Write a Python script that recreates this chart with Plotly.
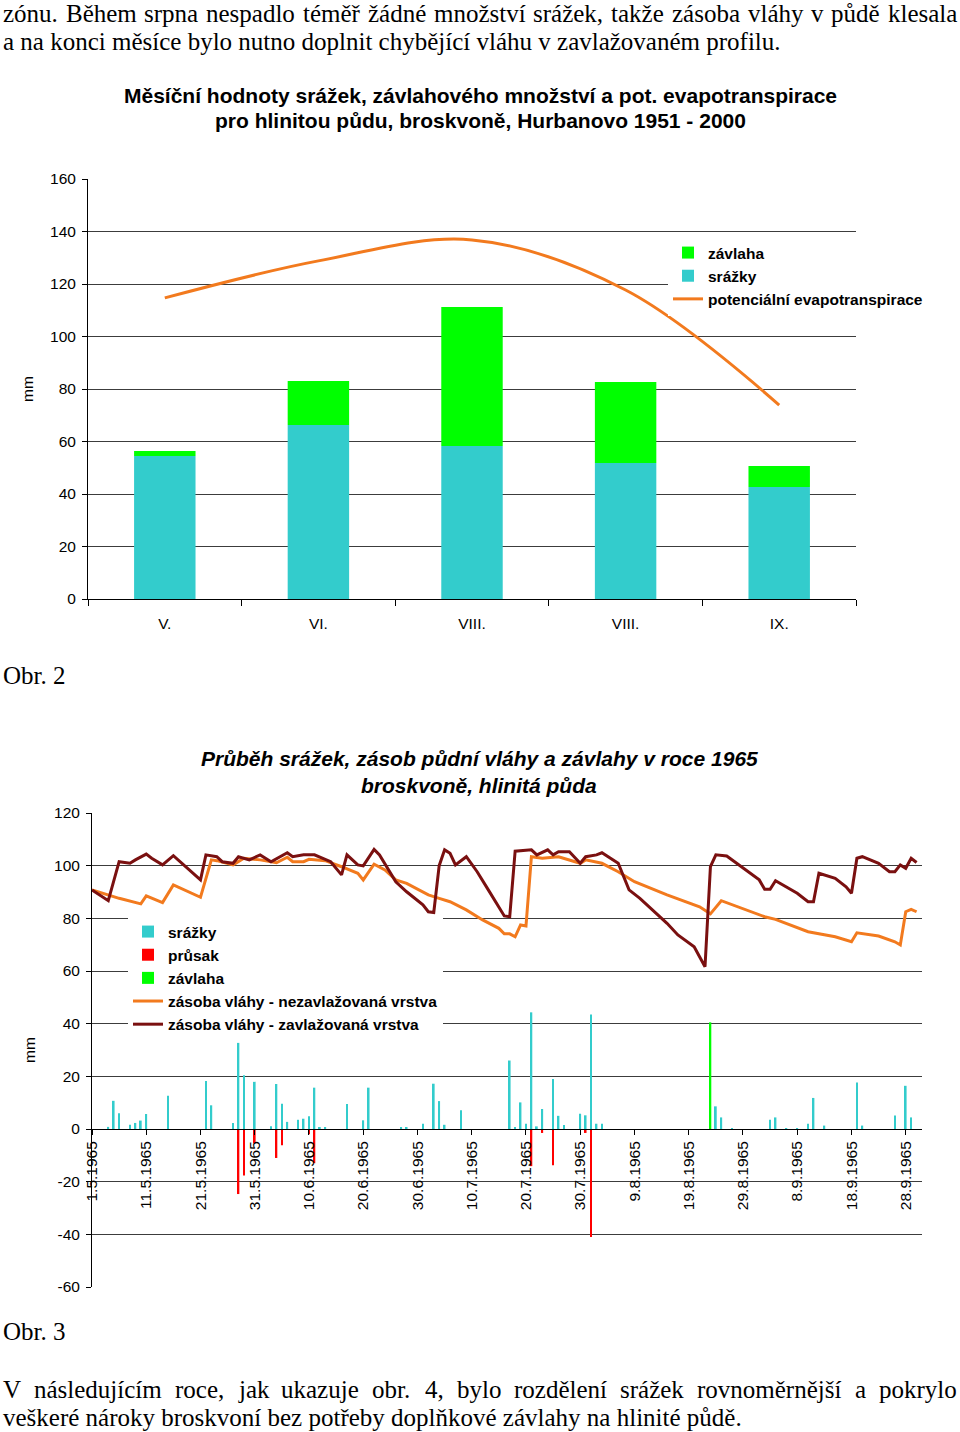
import unicodedata
import plotly.graph_objects as go
import pandas as pd

# ---------------- Chart 1 data (Hurbanovo 1951-2000) ----------------
mesice = ["V.", "VI.", "VIII.", "VIII.", "IX."]
srazky_mes = [54.5, 66.3, 58.3, 51.8, 42.7]
zavlaha_mes = [1.9, 16.7, 52.9, 30.9, 8.0]
evapotranspirace = [114.7, 128.8, 136.8, 117.7, 73.9]

# ---------------- Chart 2 data (1965), day offsets from 1.5.1965 ----------------
zacatek = "1965-05-01"
zav_dny = [0, 2, 3, 5, 7, 8, 10, 11, 13, 15, 18, 20, 21, 23, 24, 26, 27, 29, 31, 33,
           36, 37, 39, 41, 44, 46, 47, 49, 50, 52, 53, 55, 56, 58, 61, 62, 63, 64, 65, 66,
           67, 69, 71, 73, 75, 76, 77, 78, 81, 82, 84, 85, 86, 88, 90, 91, 93, 94, 97, 98,
           99, 101, 106, 108, 111, 112, 113, 114, 115, 117, 120, 123, 124, 125, 126, 128, 130, 132, 133, 134,
           135, 137, 139, 140, 141, 142, 145, 147, 148, 149, 150, 151, 152]
zav_hodnoty = [90.8, 88, 86.7, 101.5, 100.9, 102.2, 104.4, 102.8, 100.3, 103.8,
               98.4, 94.6, 104.1, 103.4, 101.5, 100.9, 103.4, 102.2, 104.1, 101.5,
               104.9, 103.4, 104.1, 104.1, 101.5, 96.5, 104.1, 100.3, 99.9, 106.2,
               104.1, 97.1, 93.9, 90.1, 85.1, 82.5, 82.2, 100, 106, 104.7,
               100.3, 103.4, 97.7, 91, 84.4, 80.9, 80.6, 105.5, 106, 104.1,
               106, 104.1, 105.3, 105.3, 100.9, 103.4, 104.1, 104.9, 100.9, 95.8,
               90.8, 87.6, 78.1, 73.7, 69.2, 65.4, 61.6, 99.6, 104.1, 103.7,
               99, 94.6, 91, 91, 94.3, 92, 89.5, 86.3, 86.3, 97.1,
               96.5, 95.2, 92, 89.5, 102.8, 103.4, 100.9, 97.7, 97.7, 100.3,
               99, 102.8, 101.2]

nez_dny = [0, 3, 5, 9, 10, 13, 15, 20, 22, 23, 26, 28, 31, 34, 36, 37, 39, 40, 43, 46,
           49, 50, 52, 54, 56, 58, 62, 64, 66, 69, 72, 75, 76, 77, 78, 79, 80, 81, 83, 86,
           87, 90, 91, 94, 97, 100, 106, 112, 114, 116, 124, 126, 132, 137, 140, 141, 145, 148, 149, 150,
           151, 152]
nez_hodnoty = [90.8, 88.9, 87.6, 85.5, 88.5, 86, 92.7, 88, 102.2, 101.9,
               100.3, 102.8, 102.2, 101.1, 103.2, 101.5, 101.5, 102.4, 101.9, 99.6,
               97.1, 94.6, 100.6, 98.4, 94.6, 93.3, 88.9, 87.6, 86.3, 83.2,
               79.4, 76.2, 74.1, 74.1, 73, 77.5, 77.1, 103.4, 102.8, 103.4,
               102.8, 100.9, 102.2, 100.9, 97.7, 93.9, 88.9, 84.4, 81.7, 86.7,
               80.6, 79.6, 74.9, 73, 71.1, 74.5, 73.3, 71.1, 69.9, 82.5,
               83.4, 82.5]

sr_dny = [3, 4, 5, 7, 8, 9, 10, 14, 21, 22, 26, 27, 28, 30, 33, 34, 35, 36, 38, 39,
          40, 41, 42, 43, 47, 50, 51, 57, 58, 61, 63, 64, 65, 68, 77, 78, 79, 80, 81, 82,
          83, 85, 86, 87, 90, 91, 92, 93, 94, 115, 116, 118, 125, 126, 128, 130, 132, 133, 135, 141,
          142, 148, 150, 151]
sr_hodnoty = [0.8, 10.7, 6, 1.6, 2.3, 3.2, 5.7, 12.6, 18.2, 9,
              2.3, 32.7, 20.4, 17.9, 1, 17.1, 9.6, 2.7, 3.5, 3.9,
              4.8, 15.7, 0.5, 0.5, 9.5, 3.3, 15.7, 0.4, 0.4, 2,
              17.2, 10.6, 1.6, 7.1, 26, 0.5, 10.1, 2, 44.3, 1,
              7.6, 19, 5, 1.5, 5.8, 5.2, 43.5, 2, 2, 8.6,
              4.4, 0.3, 3.5, 4.4, 0.3, 0.3, 2, 11.8, 1.3, 17.7,
              1.3, 5.1, 16.4, 4.4]

prusak_dny = [27, 28, 30, 34, 35, 40, 41, 81, 83, 85, 91, 92]
prusak_hodnoty = [-24.7, -17.7, -5.4, -11, -6.2, -2, -13, -14.1, -1.5, -13.8, -1.5, -41]

zavlaha_dny = [114]
zavlaha_hodnoty = [40.5]

y2_ticks = [120, 100, 80, 60, 40, 20, 0, -20, -40, -60]
y2_labels = ["120", "100", "80", "60", "40", "20", "0", "-20", "-40", "-60"]


def datumy(dny):
    return [pd.Timestamp(zacatek) + pd.Timedelta(days=d) for d in dny]


W, H = 960, 1432
def fx(p):
    return p / W
def fy(p):
    return 1 - p / H

SANS = "Liberation Sans, Arial, sans-serif"
SERIF = "Liberation Serif, Times New Roman, serif"
ORANGE = "#F27A1E"
DARKRED = "#7A1010"
CYAN = "#33CCCC"
GREEN = "#00FF00"
GRID = "#3c3c3c"

fig = go.Figure()

# ---- Chart 1 ----
xpos = list(range(len(mesice)))
fig.add_trace(go.Bar(x=xpos, y=srazky_mes, name="srážky", marker=dict(color=CYAN, line_width=0),
                     width=0.4, xaxis="x", yaxis="y", legend="legend", legendrank=2))
fig.add_trace(go.Bar(x=xpos, y=zavlaha_mes, name="závlaha", marker=dict(color=GREEN, line_width=0),
                     width=0.4, xaxis="x", yaxis="y", legend="legend", legendrank=1))
fig.add_trace(go.Scatter(x=xpos, y=evapotranspirace, name="potenciální evapotranspirace", mode="lines",
                         line=dict(color=ORANGE, width=3, shape="spline", smoothing=1),
                         xaxis="x", yaxis="y", legend="legend", legendrank=3))

# ---- Chart 2 ----
bw = 0.32 * 86400000
fig.add_trace(go.Bar(x=datumy(sr_dny), y=sr_hodnoty, name="srážky", width=bw,
                     marker=dict(color=CYAN, line_width=0), xaxis="x2", yaxis="y2",
                     legend="legend2", legendrank=1))
fig.add_trace(go.Bar(x=datumy(prusak_dny), y=prusak_hodnoty, name="průsak", width=bw,
                     marker=dict(color="#FF0000", line_width=0), xaxis="x2", yaxis="y2",
                     legend="legend2", legendrank=2))
fig.add_trace(go.Bar(x=datumy(zavlaha_dny), y=zavlaha_hodnoty, name="závlaha", width=bw,
                     marker=dict(color=GREEN, line_width=0), xaxis="x2", yaxis="y2",
                     legend="legend2", legendrank=3))
fig.add_trace(go.Scatter(x=datumy(nez_dny), y=nez_hodnoty, name="zásoba vláhy - nezavlažovaná vrstva",
                         mode="lines", line=dict(color=ORANGE, width=3),
                         xaxis="x2", yaxis="y2", legend="legend2", legendrank=4))
fig.add_trace(go.Scatter(x=datumy(zav_dny), y=zav_hodnoty, name="zásoba vláhy - zavlažovaná vrstva",
                         mode="lines", line=dict(color=DARKRED, width=3),
                         xaxis="x2", yaxis="y2", legend="legend2", legendrank=5))

tickfont = dict(family=SANS, size=15.5, color="black")
legfont = dict(family=SANS, size=15.5, color="black", weight="bold")

c2_bottom, c2_top = fy(1287), fy(813)
zero_pos = c2_bottom + (0 - (-60)) / 180 * (c2_top - c2_bottom)

fig.update_layout(
    width=W, height=H,
    margin=dict(l=0, r=0, t=0, b=0, pad=0, autoexpand=False),
    paper_bgcolor="white", plot_bgcolor="white",
    barmode="relative",
    showlegend=True,
    xaxis=dict(domain=[fx(88), fx(856)], anchor="y", range=[-0.5, 4.5], automargin=False,
               tickmode="array", tickvals=xpos, ticktext=mesice, ticks="",
               showline=True, linecolor="black", linewidth=1, showgrid=False, zeroline=False,
               tickfont=tickfont, ticklabelstandoff=10,
               minor=dict(tick0=-0.5, dtick=1, ticks="outside", ticklen=6,
                          tickcolor="black", showgrid=False)),
    yaxis=dict(domain=[fy(599), fy(179)], anchor="x", range=[0, 160], tick0=0, dtick=20,
               automargin=False, ticklabelstandoff=3,
               showgrid=True, gridcolor=GRID, gridwidth=1, showline=True, linecolor="black",
               ticks="outside", ticklen=5, tickcolor="black", zeroline=False, tickfont=tickfont,
               title=dict(text="mm", font=dict(family=SANS, size=15.5, color="black"), standoff=12)),
    xaxis2=dict(type="date", domain=[fx(92), fx(922)], anchor="free", position=zero_pos,
                automargin=False,
                range=["1965-05-01", "1965-10-01"], tick0="1965-05-01", dtick=864000000,
                tickformat="%-d.%-m.%Y", tickangle=-90, ticks="outside", ticklen=5,
                tickcolor="black", showline=True, linecolor="black", linewidth=1,
                showgrid=False, zeroline=False, tickfont=tickfont),
    yaxis2=dict(domain=[c2_bottom, c2_top], anchor="x2", range=[-60, 120], automargin=False,
                tickmode="array", tickvals=y2_ticks, ticktext=y2_labels, ticklabelstandoff=3,
                showgrid=True, gridcolor=GRID, gridwidth=1, showline=True, linecolor="black",
                ticks="outside", ticklen=5, tickcolor="black", zeroline=False, tickfont=tickfont,
                title=dict(text="mm", font=dict(family=SANS, size=15.5, color="black"), standoff=14)),
    legend=dict(x=fx(668), y=fy(236), xanchor="left", yanchor="top", bgcolor="white",
                font=legfont, traceorder="normal", borderwidth=0),
    legend2=dict(x=fx(128), y=fy(915), xanchor="left", yanchor="top", bgcolor="white",
                 font=legfont, traceorder="normal", borderwidth=0),
)

ann = []
# Chart titles
title_font = dict(family=SANS, size=21, color="black", weight="bold")
ann.append(dict(text="Měsíční hodnoty srážek, závlahového množství a pot. evapotranspirace",
                x=fx(480), y=fy(95), font=title_font))
ann.append(dict(text="pro hlinitou půdu, broskvoně, Hurbanovo 1951 - 2000",
                x=fx(480), y=fy(121), font=title_font))
title2_font = dict(family=SANS, size=21, color="black", weight="bold", style="italic")
ann.append(dict(text="Průběh srážek, zásob půdní vláhy a závlahy v roce 1965",
                x=fx(479), y=fy(758), font=title2_font))
ann.append(dict(text="broskvoně, hlinitá půda", x=fx(479), y=fy(785), font=title2_font))

# ---- body text (Times metrics, used to justify full lines) ----
BODY_SIZE = 25
TIMES_W = {
    "a": 444, "b": 500, "c": 444, "d": 500, "e": 444, "f": 333, "g": 500, "h": 500, "i": 278,
    "j": 278, "k": 500, "l": 278, "m": 778, "n": 500, "o": 500, "p": 500, "q": 500, "r": 333,
    "s": 389, "t": 278, "u": 500, "v": 500, "w": 722, "x": 500, "y": 500, "z": 444,
    "B": 667, "V": 722, "O": 722, ".": 250, ",": 250, "-": 333, " ": 250,
}


def text_w(s):
    tot = 0
    for c in s:
        base = unicodedata.normalize("NFD", c)[0]
        tot += TIMES_W.get(base, 500)
    return tot * BODY_SIZE / 1000.0


body_font = dict(family=SERIF, size=BODY_SIZE, color="black")
LEFT, RIGHT = 3, 957
body = [
    ("zónu. Během srpna nespadlo téměř žádné množství srážek, takže zásoba vláhy v půdě klesala", 14, True),
    ("a na konci měsíce bylo nutno doplnit chybějící vláhu v zavlažovaném profilu.", 41, False),
    ("Obr. 2", 675, False),
    ("Obr. 3", 1331, False),
    ("V následujícím roce, jak ukazuje obr. 4, bylo rozdělení srážek rovnoměrnější a pokrylo", 1389, True),
    ("veškeré nároky broskvoní bez potřeby doplňkové závlahy na hlinité půdě.", 1417, False),
]
body_box = dict(borderpad=0, borderwidth=0)
for t, yy, justify in body:
    if not justify:
        ann.append(dict(text=t, x=fx(LEFT), y=fy(yy), xanchor="left", font=body_font, **body_box))
        continue
    words = t.split(" ")
    widths = [text_w(w) for w in words]
    gap = (RIGHT - LEFT - sum(widths)) / (len(words) - 1)
    xcur = LEFT
    for w, wd in zip(words, widths):
        ann.append(dict(text=w, x=fx(xcur), y=fy(yy), xanchor="left", font=body_font, **body_box))
        xcur += wd + gap

for a in ann:
    a.setdefault("xanchor", "center")
    a.update(xref="paper", yref="paper", yanchor="middle", showarrow=False)
fig.update_layout(annotations=ann)

fig.write_html("out.html", config={"displayModeBar": False},
               post_script="document.body.style.margin='0px';")
